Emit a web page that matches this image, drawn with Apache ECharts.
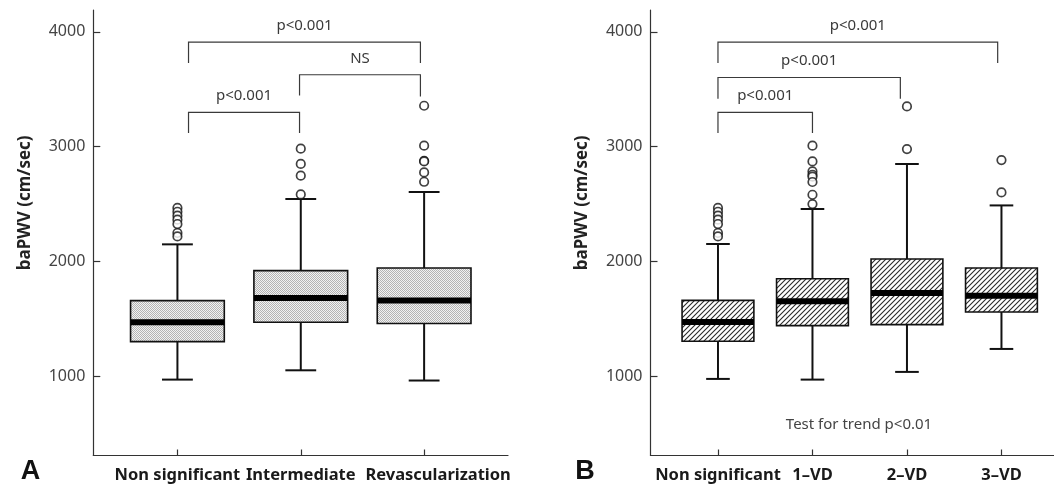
<!DOCTYPE html>
<html><head><meta charset="utf-8">
<script src="https://cdn.jsdelivr.net/npm/echarts@6/dist/echarts.min.js"></script>
<style>html,body{margin:0;padding:0;background:#fff}#c{width:1054px;height:484px}</style>
</head><body><div id="c"></div>
<script>
// ---- data ----
const categoriesA = ['Non significant', 'Intermediate', 'Revascularization'];
// [min, Q1, median, Q3, max]
const boxStatsA = [
  [971, 1302, 1470, 1659, 2149],
  [1052, 1470, 1682, 1920, 2544],
  [963, 1459, 1661, 1943, 2605]
];
const outliersA = [
  [2466, 2433, 2399, 2364, 2326, 2248, 2218],
  [2982, 2849, 2747, 2584],
  [3356, 3008, 2877, 2871, 2775, 2694]
];
const categoriesB = ['Non significant', '1\u2013VD', '2\u2013VD', '3\u2013VD'];
const boxStatsB = [
  [977, 1305, 1473, 1661, 2152],
  [971, 1441, 1653, 1850, 2457],
  [1038, 1450, 1726, 2022, 2849],
  [1238, 1560, 1702, 1943, 2488]
];
const outliersB = [
  [2466, 2433, 2399, 2364, 2326, 2248, 2218],
  [3008, 2871, 2784, 2755, 2738, 2692, 2581, 2500],
  [3350, 2979],
  [2883, 2601]
];
// brackets: [fromX, toX, barY, leftEndY, rightEndY]
const bracketsA = [
  [1.09, 2.97, 3910, 3728, 3728],
  [1.99, 2.97, 3626, 3446, 3437],
  [1.09, 1.99, 3298, 3118, 3118]
];
const bracketLabelsA = ['p<0.001', 'NS', 'p<0.001'];
const bracketsB = [
  [1.0, 3.96, 3910, 3728, 3728],
  [1.0, 2.93, 3602, 3417, 3417],
  [1.0, 2.0, 3298, 3118, 3118]
];
const bracketLabelsB = ['p<0.001', 'p<0.001', 'p<0.001'];
const yTicks = [1000, 2000, 3000, 4000];
const yName = 'baPWV (cm/sec)';
const trendNote = 'Test for trend p<0.01';

// ---- patterns ----
function stipple() {
  const c = document.createElement('canvas'); c.width = 2; c.height = 2;
  const g = c.getContext('2d');
  g.fillStyle = '#f2f2f2'; g.fillRect(0, 0, 2, 2);
  g.fillStyle = '#b4b4b4'; g.fillRect(0, 0, 1, 1); g.fillRect(1, 1, 1, 1);
  return c;
}
function hatch() {
  const s = 5;
  const c = document.createElement('canvas'); c.width = s; c.height = s;
  const g = c.getContext('2d');
  g.fillStyle = '#fff'; g.fillRect(0, 0, s, s);
  g.strokeStyle = '#2a2a2a'; g.lineWidth = 1.1;
  g.beginPath();
  g.moveTo(-1, s + 1); g.lineTo(s + 1, -1);
  g.moveTo(-1, 1); g.lineTo(1, -1);
  g.moveTo(s - 1, s + 1); g.lineTo(s + 1, s - 1);
  g.stroke();
  return c;
}
const fillA = { image: stipple(), repeat: 'repeat' };
const fillB = { image: hatch(), repeat: 'repeat' };

const FONT = '"Noto Sans", "Liberation Sans", sans-serif';

function boxRenderer(fill) {
  return function (params, api) {
    const x = api.value(0);
    const mn = api.value(1), q1 = api.value(2), md = api.value(3), q3 = api.value(4), mx = api.value(5);
    const bw = api.size([0.76, 0])[0];
    const cw = api.size([0.25, 0])[0];
    const pMin = api.coord([x, mn]), pQ1 = api.coord([x, q1]), pMd = api.coord([x, md]),
          pQ3 = api.coord([x, q3]), pMax = api.coord([x, mx]);
    const cx = pMin[0];
    const ls = { stroke: '#111', lineWidth: 2 };
    return {
      type: 'group',
      children: [
        { type: 'line', shape: { x1: cx, y1: pQ3[1], x2: cx, y2: pMax[1] }, style: ls },
        { type: 'line', shape: { x1: cx, y1: pMin[1], x2: cx, y2: pQ1[1] }, style: ls },
        { type: 'line', shape: { x1: cx - cw / 2, y1: pMax[1], x2: cx + cw / 2, y2: pMax[1] }, style: ls },
        { type: 'line', shape: { x1: cx - cw / 2, y1: pMin[1], x2: cx + cw / 2, y2: pMin[1] }, style: ls },
        { type: 'rect', shape: { x: cx - bw / 2, y: pQ3[1], width: bw, height: pQ1[1] - pQ3[1] },
          style: { fill: fill, stroke: '#111', lineWidth: 1.6 } },
        { type: 'line', shape: { x1: cx - bw / 2, y1: pMd[1], x2: cx + bw / 2, y2: pMd[1] },
          style: { stroke: '#000', lineWidth: 6 } }
      ]
    };
  };
}
function bracketRenderer(labels) {
  return function (params, api) {
    const f = api.value(0), t = api.value(1), bar = api.value(2), le = api.value(3), re = api.value(4);
    const a = api.coord([f, le]), b = api.coord([f, bar]), c = api.coord([t, bar]), d = api.coord([t, re]);
    return {
      type: 'group',
      children: [
        { type: 'polyline', shape: { points: [a, b, c, d] }, style: { stroke: '#3a3a3a', lineWidth: 1.2, fill: null } },
        { type: 'text', x: (b[0] + c[0]) / 2, y: b[1] - 16.5,
          style: { text: labels[params.dataIndex], align: 'center', verticalAlign: 'middle',
                   fontSize: 15, fontFamily: FONT, fill: '#3a3a3a' } }
      ]
    };
  };
}
function flattenOut(arr) {
  const r = [];
  arr.forEach((vals, i) => vals.forEach(v => r.push([i + 1, v])));
  return r;
}

const axisLineStyle = { color: '#333', width: 1.2 };
function yAxisCfg(gi) {
  return {
    gridIndex: gi, type: 'value', min: 310, max: 4190,
    axisLine: { show: true, lineStyle: axisLineStyle },
    axisTick: { show: true, inside: true, length: 7, customValues: yTicks, lineStyle: axisLineStyle },
    axisLabel: { customValues: yTicks, margin: 8, fontSize: 16, color: '#444', fontFamily: FONT,
                 formatter: v => String(v) },
    splitLine: { show: false },
    name: yName, nameLocation: 'middle', nameGap: 60,
    nameTextStyle: { fontSize: 17, fontWeight: 'bold', color: '#222', fontFamily: FONT, padding: [0, 0, 0, 60] }
  };
}
function xAxisCfg(gi, cats, min, max, richShift) {
  const vals = cats.map((_, i) => i + 1);
  return {
    gridIndex: gi, type: 'value', min: min, max: max,
    axisLine: { show: true, lineStyle: axisLineStyle },
    axisTick: { show: true, inside: true, length: 6, customValues: vals, lineStyle: axisLineStyle },
    axisLabel: {
      customValues: vals, margin: 11,
      formatter: v => {
        const i = Math.round(v) - 1;
        return (richShift && richShift[i]) ? '{s' + i + '|' + cats[i] + '}' : '{n|' + cats[i] + '}';
      },
      rich: Object.assign({
        n: { fontSize: 16.5, fontWeight: 'bold', color: '#1a1a1a', fontFamily: FONT }
      }, richShift ? Object.fromEntries(Object.keys(richShift).map(k => ['s' + k,
        { fontSize: 16.5, fontWeight: 'bold', color: '#1a1a1a', fontFamily: FONT, padding: [0, 0, 0, richShift[k]] }])) : {})
    },
    splitLine: { show: false }
  };
}

const chart = echarts.init(document.getElementById('c'), null, { renderer: 'canvas' });
chart.setOption({
  animation: false,
  backgroundColor: '#fff',
  grid: [
    { left: 93.3, top: 10, width: 414.7, height: 445.5 },
    { left: 650.5, top: 10, width: 403.5, height: 445.5 }
  ],
  xAxis: [
    xAxisCfg(0, categoriesA, 0.318, 3.68, { 2: 28 }),
    xAxisCfg(1, categoriesB, 0.286, 4.556, null)
  ],
  yAxis: [yAxisCfg(0), yAxisCfg(1)],
  series: [
    { type: 'custom', xAxisIndex: 0, yAxisIndex: 0, silent: true, clip: false,
      renderItem: boxRenderer(fillA), data: boxStatsA.map((s, i) => [i + 1].concat(s)) },
    { type: 'custom', xAxisIndex: 1, yAxisIndex: 1, silent: true, clip: false,
      renderItem: boxRenderer(fillB), data: boxStatsB.map((s, i) => [i + 1].concat(s)) },
    { type: 'scatter', xAxisIndex: 0, yAxisIndex: 0, silent: true, symbol: 'circle', symbolSize: 8.5,
      itemStyle: { color: '#fff', borderColor: '#111', borderWidth: 1.7 }, data: flattenOut(outliersA) },
    { type: 'scatter', xAxisIndex: 1, yAxisIndex: 1, silent: true, symbol: 'circle', symbolSize: 8.5,
      itemStyle: { color: '#fff', borderColor: '#111', borderWidth: 1.7 }, data: flattenOut(outliersB) },
    { type: 'custom', xAxisIndex: 0, yAxisIndex: 0, silent: true, clip: false,
      renderItem: bracketRenderer(bracketLabelsA), data: bracketsA },
    { type: 'custom', xAxisIndex: 1, yAxisIndex: 1, silent: true, clip: false,
      renderItem: bracketRenderer(bracketLabelsB), data: bracketsB }
  ],
  graphic: [
    { type: 'text', x: 30.5, y: 472, style: { text: 'A', align: 'center', verticalAlign: 'middle',
      font: 'bold 27px "Liberation Sans", Arial, sans-serif', fill: '#111' } },
    { type: 'text', x: 585, y: 472, style: { text: 'B', align: 'center', verticalAlign: 'middle',
      font: 'bold 27px "Liberation Sans", Arial, sans-serif', fill: '#111' } },
    { type: 'text', x: 859, y: 425, style: { text: trendNote, align: 'center', verticalAlign: 'middle',
      fontSize: 15, fontFamily: FONT, fill: '#444' } }
  ]
});
</script></body></html>
